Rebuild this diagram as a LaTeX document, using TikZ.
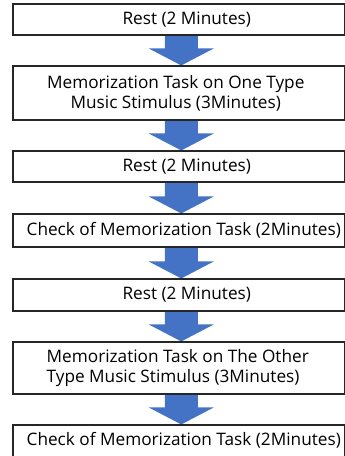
\documentclass[tikz,border=0pt]{standalone}
\usepackage{fontspec}
\setmainfont{Open Sans}
\usetikzlibrary{calc}
\pgfdeclarelayer{background}
\pgfsetlayers{background,main}
\definecolor{arrowblue}{RGB}{68,114,196}
\tikzset{
  box/.style={draw=black!85, line width=1.1pt, minimum width=331.5pt, inner sep=0pt},
  txt/.style={inner sep=0pt, align=center, font=\fontsize{17.2}{20}\selectfont},
}
\newcommand{\flowarrow}[2]{%
  \fill[arrowblue] let \p1=(#1.south), \p2=(#2.north) in
    (\x1-14pt,\y1) -- (\x1+19pt,\y1) -- (\x1+19pt,\y2+17pt) -- (\x1+35pt,\y2+17pt)
    -- (\x1+2.5pt,\y2) -- (\x1-30pt,\y2+17pt) -- (\x1-14pt,\y2+17pt) -- cycle;}
\begin{document}
\begin{tikzpicture}[x=1pt,y=-1pt]
\useasboundingbox (0,0) rectangle (345,456);
\node[box, minimum height=31pt] (b1) at (178.75,19.5) {};
\node[box, minimum height=54pt] (b2) at (178.75,93) {};
\node[box, minimum height=31pt] (b3) at (178.75,166.5) {};
\node[box, minimum height=33pt] (b4) at (178.75,230.5) {};
\node[box, minimum height=32pt] (b5) at (178.75,295) {};
\node[box, minimum height=52pt] (b6) at (178.75,368) {};
\node[box, minimum height=33pt] (b7) at (178.75,441.5) {};
\node[txt] (t1) at ($(b1.center)+(8,0)$) {Rest (2 Minutes)};
\node[txt] (t2) at ($(b2.center)+(-3,0)$) {Memorization Task on One Type\\Music Stimulus (3Minutes)};
\node[txt] (t3) at ($(b3.center)+(8,0)$) {Rest (2 Minutes)};
\node[txt] (t4) at ($(b4.center)+(5,0)$) {Check of Memorization Task (2Minutes)};
\node[txt] (t5) at ($(b5.center)+(8,0)$) {Rest (2 Minutes)};
\node[txt, align=left] (t6) at ($(b6.center)+(-1,0)$) {Memorization Task on The Other\\Type Music Stimulus (3Minutes)};
\node[txt] (t7) at ($(b7.center)+(5,-1)$) {Check of Memorization Task (2Minutes)};
\begin{pgfonlayer}{background}
\flowarrow{b1}{b2}
\flowarrow{b2}{b3}
\flowarrow{b3}{b4}
\flowarrow{b4}{b5}
\flowarrow{b5}{b6}
\flowarrow{b6}{b7}
\end{pgfonlayer}
\end{tikzpicture}
\end{document}
